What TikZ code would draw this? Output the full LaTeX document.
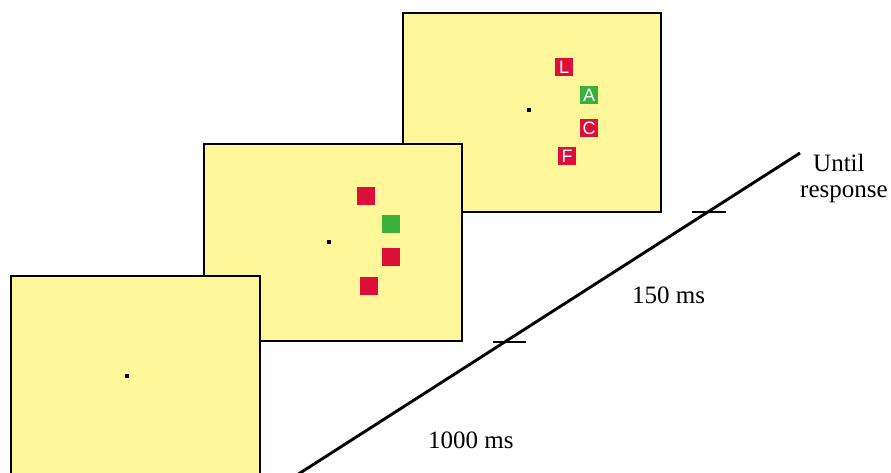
\documentclass[tikz,border=0pt]{standalone}
\usepackage{fontspec}
\setmainfont{Liberation Serif}
\newfontfamily\lettersans{Liberation Sans}
\definecolor{screen}{RGB}{255,247,153}
\definecolor{distred}{RGB}{220,14,58}
\definecolor{targetgreen}{RGB}{58,178,58}
\begin{document}
\begin{tikzpicture}[x=1pt,y=-1pt,
  panel/.style={draw=black, line width=2.9pt, fill=screen, inner sep=0pt, outer sep=0pt},
  fixdot/.style={fill=black, minimum size=3.6pt, inner sep=0pt},
  patch/.style={minimum size=17.5pt, inner sep=0pt},
  redpatch/.style={patch, fill=distred},
  greenpatch/.style={patch, fill=targetgreen},
  letter/.style={text=white, font=\lettersans\fontsize{18}{18}\selectfont},
  timeline/.style={line width=2.9pt},
  tickmark/.style={line width=2.7pt},
  lbl/.style={font=\fontsize{25}{30}\selectfont, inner sep=0pt}
]
\useasboundingbox (0,0) rectangle (891,473);
\clip (0,0) rectangle (891,473);

% search display (back)
\node[panel, minimum width=258pt, minimum height=199pt] (search) at (532,112.5) {};
\node[fixdot] (fix3) at (529,110) {};
\node[redpatch, letter] (sL) at (564,67) {L};
\node[greenpatch, letter] (sA) at (589,95) {A};
\node[redpatch, letter] (sC) at (589,128) {C};
\node[redpatch, letter] (sF) at (567,156) {F};

% placeholder display (middle)
\node[panel, minimum width=258pt, minimum height=197pt] (preview) at (333,242.5) {};
\node[fixdot] (fix2) at (329,242) {};
\node[redpatch] (p1) at (366,196) {};
\node[greenpatch] (p2) at (391,224) {};
\node[redpatch] (p3) at (391,257) {};
\node[redpatch] (p4) at (369,286) {};

% fixation display (front)
\node[panel, minimum width=249pt, minimum height=230pt] (fixation) at (135.5,391) {};
\node[fixdot] (fix1) at (127,376) {};

% time axis
\coordinate (tstart) at (298,474.3);
\coordinate (tend) at (800,153);
\draw[timeline] (tstart) -- (tend);
\coordinate (tickA) at (509,342);
\coordinate (tickB) at (709,212);
\draw[tickmark] ([xshift=-16.5pt]tickA) -- ([xshift=16.5pt]tickA);
\draw[tickmark] ([xshift=-17pt]tickB) -- ([xshift=17pt]tickB);

\node[lbl, anchor=base west] (d1) at (428,448) {1000 ms};
\node[lbl, anchor=base west] (d2) at (632,303) {150 ms};
\node[lbl, anchor=base west] (d3a) at (813,172) {Until};
\node[lbl, anchor=base west] (d3b) at (800,198) {response};
\end{tikzpicture}
\end{document}
